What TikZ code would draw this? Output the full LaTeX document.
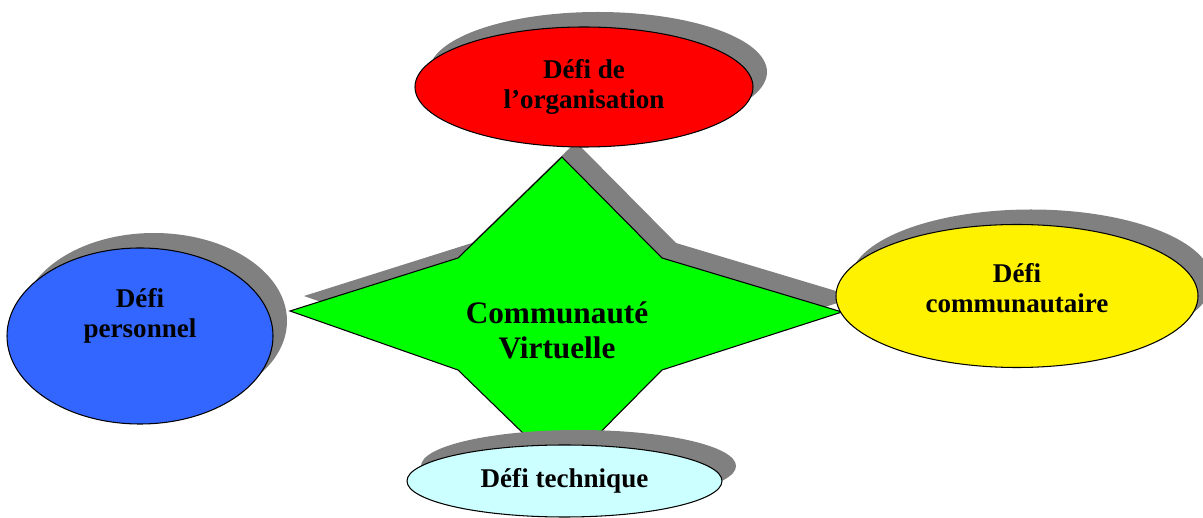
\documentclass[tikz,border=0pt]{standalone}
\usepackage{fontspec}
\setmainfont{Liberation Serif}
\usetikzlibrary{shapes.geometric,shadows}
\tikzset{
  ombre/.style={drop shadow={shadow xshift=0.28cm,shadow yshift=0.3cm,fill=gray,opacity=1}},
  defi/.style={ellipse,draw,semithick,inner sep=0pt,ombre},
  lbl/.style={align=center,font=\fontsize{15.4}{17.4}\selectfont\bfseries}
}
\newcommand{\defi}[5]{\node[defi,fill=#1,minimum width=#2cm,minimum height=#3cm] (#4) at (#5) {};}

\begin{document}
\begin{tikzpicture}
      \useasboundingbox (0,0) rectangle (24.06,10.36);
      \foreach \n/\x/\y in {t/11.24/7.22, ul/9.16/5.20, l/5.80/4.14, ll/9.16/2.96,
                            b/11.24/0.94, lr/13.24/2.96, r/16.84/4.12, ur/13.24/5.20}{
      \coordinate (\n) at (\x,\y);
      }
      \draw[semithick,fill=green,ombre] (t) -- (ul) -- (l) -- (ll) -- (b) -- (lr) -- (r) -- (ur) -- cycle;
      \node[lbl,font=\fontsize{17.8}{20}\selectfont\bfseries] (cv) at (11.14,3.76) {Communauté\\Virtuelle};
      \definecolor{bleu}{HTML}{3366FF}
      \definecolor{ciel}{HTML}{CCFFFF}
      \defi{red}{6.76}{2.4}{orga}{11.68,8.62}
      \defi{bleu}{5.32}{3.52}{perso}{2.80,3.64}
      \defi{yellow}{7.24}{2.86}{commu}{20.34,4.44}
      \defi{ciel}{6.30}{1.44}{tech}{11.29,0.74}
      \node[lbl] (orga text) at (orga) {Défi de\\l’organisation};
      \node[lbl] (perso text) at ([yshift=0.40cm]perso) {Défi\\personnel};
      \node[lbl] (commu text) at ([yshift=0.16cm]commu) {Défi\\communautaire};
      \node[lbl] (tech text) at (tech) {Défi technique};
\end{tikzpicture}
\end{document}
